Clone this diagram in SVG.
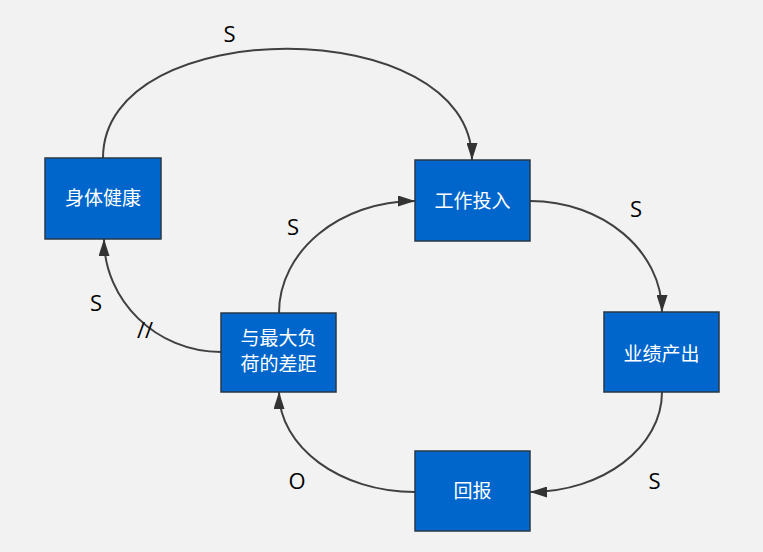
<svg xmlns="http://www.w3.org/2000/svg" width="763" height="552" viewBox="0 0 763 552">
<style>
.box{fill:#0066cc;stroke:#283848;stroke-width:1.5}
.nt{font-family:"Noto Sans CJK SC","Noto Sans",sans-serif;font-size:19px;fill:#ffffff;text-anchor:middle}
.edge{fill:none;stroke:#404040;stroke-width:2;marker-end:url(#arr)}
.lbl{font-family:"Open Sans","Noto Sans",sans-serif;font-size:22px;fill:#000000;text-anchor:middle}
</style>
<defs>
<marker id="arr" markerUnits="userSpaceOnUse" markerWidth="17" markerHeight="11" refX="17" refY="5.5" orient="auto">
<path d="M0,0 L17,5.5 L0,11 z" fill="#333333"/>
</marker>
</defs>
<rect width="763" height="552" fill="#f2f2f2"/>
<g id="connectors">
<path class="edge" d="M103,158 C103,12 472,12 472,160"/>
<path class="edge" d="M530,201 C603,201 662,251 662,312"/>
<path class="edge" d="M662,392 C662,447 603,492 530,492"/>
<path class="edge" d="M415,492 C340,492 279,447 279,392"/>
<path class="edge" d="M279,313 C279,251 340,201 415,201"/>
<path class="edge" d="M221,352 C156,352 104,300 104,239"/>
<text class="lbl" x="229.5" y="42">S</text>
<text class="lbl" x="636" y="217">S</text>
<text class="lbl" x="654.5" y="489">S</text>
<text class="lbl" x="297" y="489">O</text>
<text class="lbl" x="293" y="235">S</text>
<text class="lbl" x="96" y="311">S</text>
<text class="lbl" x="145" y="338" font-size="25">//</text>
</g>
<g id="n1">
<rect class="box" x="45" y="158" width="116" height="81"/>
<text class="nt" x="103" y="205">身体健康</text>
</g>
<g id="n2">
<rect class="box" x="415" y="160" width="115" height="81"/>
<text class="nt" x="472.5" y="208">工作投入</text>
</g>
<g id="n3">
<rect class="box" x="604" y="312" width="115" height="80"/>
<text class="nt" x="661.5" y="361">业绩产出</text>
</g>
<g id="n4">
<rect class="box" x="415" y="451" width="115" height="80"/>
<text class="nt" x="472.5" y="498">回报</text>
</g>
<g id="n5">
<rect class="box" x="221" y="313" width="115" height="79"/>
<text class="nt" x="278.5" y="345">与最大负</text>
<text class="nt" x="278.5" y="371">荷的差距</text>
</g>
</svg>
